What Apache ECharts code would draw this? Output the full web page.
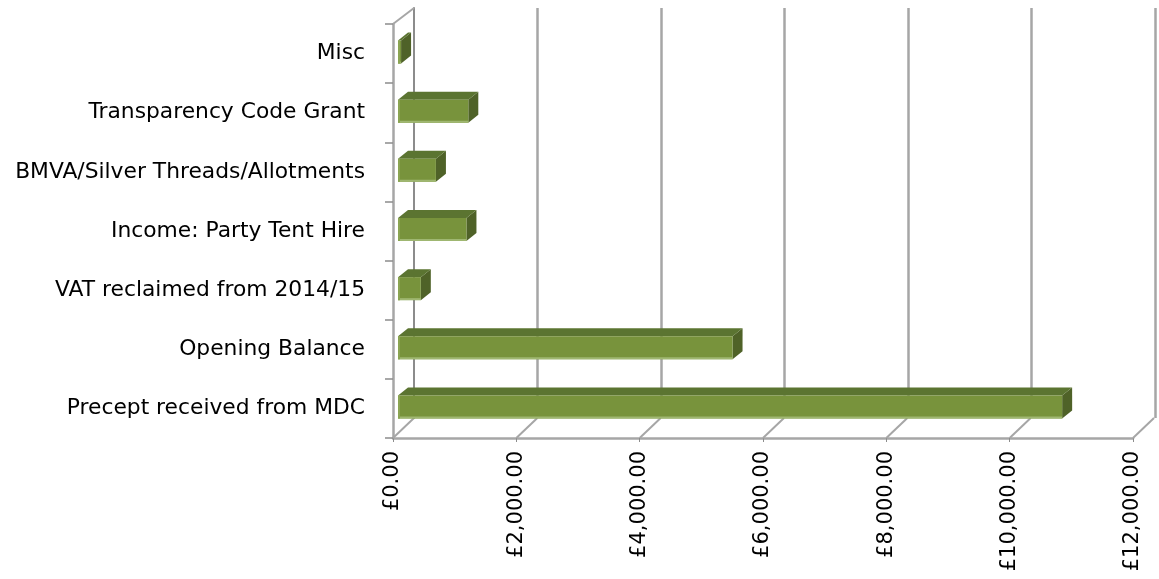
<!DOCTYPE html>
<html>
<head>
<meta charset="utf-8">
<script src="https://cdn.jsdelivr.net/npm/echarts@6/dist/echarts.min.js"></script>
<style>html,body{margin:0;padding:0;background:#fff;}#c{width:1159px;height:579px;}</style>
</head>
<body>
<div id="c"></div>
<script>
var categories = ['Misc', 'Transparency Code Grant', 'BMVA/Silver Threads/Allotments', 'Income: Party Tent Hire', 'VAT reclaimed from 2014/15', 'Opening Balance', 'Precept received from MDC'];
var values = [50, 1140, 615, 1110, 370, 5425, 10770];
var xTicks = [0, 2000, 4000, 6000, 8000, 10000, 12000];

function money(v) {
  var s = Math.round(v).toString().replace(/\B(?=(\d{3})+(?!\d))/g, ',');
  return '£' + s + '.00';
}

var FONT = 'DejaVu Sans';
var GRID_GRAY = '#a6a6a6';

var chart = echarts.init(document.getElementById('c'), null, {renderer: 'canvas'});

var barData = values.map(function (v, i) { return [v, i]; });

chart.setOption({
  animation: false,
  backgroundColor: '#fff',
  grid: [
    {left: 393, right: 26, top: 24, bottom: 141},
    {left: 414, right: 4, top: 8, bottom: 161}
  ],
  xAxis: [
    {
      gridIndex: 0, type: 'value', min: 0, max: 12000, interval: 2000,
      axisLine: {show: true, lineStyle: {color: GRID_GRAY, width: 2.5}},
      axisTick: {show: true, length: 4, lineStyle: {color: '#8c8c8c', width: 1}},
      splitLine: {show: false},
      axisLabel: {rotate: 90, margin: 13, color: '#000', fontFamily: FONT, fontSize: 21, formatter: money}
    },
    {
      gridIndex: 1, type: 'value', min: 0, max: 12000, interval: 2000,
      axisLine: {show: false}, axisTick: {show: false}, axisLabel: {show: false},
      splitLine: {show: true, showMinLine: false, showMaxLine: true, lineStyle: {color: GRID_GRAY, width: 2.5}}
    }
  ],
  yAxis: [
    {
      gridIndex: 0, type: 'category', data: categories, inverse: true,
      axisLine: {show: true, lineStyle: {color: GRID_GRAY, width: 2.5}},
      axisTick: {show: true, length: 8, lineStyle: {color: '#8c8c8c', width: 1.5}},
      axisLabel: {margin: 28, color: '#000', fontFamily: FONT, fontSize: 21.8}
    },
    {
      gridIndex: 1, type: 'category', data: categories, inverse: true,
      axisLine: {show: true, lineStyle: {color: '#8c8c8c', width: 2}},
      axisTick: {show: false}, axisLabel: {show: false}, splitLine: {show: false}
    }
  ],
  series: [
    {
      type: 'custom',
      xAxisIndex: 0, yAxisIndex: 0,
      data: xTicks,
      z: 1,
      silent: true,
      renderItem: function (params, api) {
        var cs = params.coordSys;
        var p = api.coord([api.value(0), 0]);
        var bottom = cs.y + cs.height;
        var children = [{
          type: 'line',
          shape: {x1: p[0], y1: bottom, x2: p[0] + 21, y2: bottom - 20},
          style: {stroke: GRID_GRAY, lineWidth: 2}
        }];
        if (params.dataIndex === 0) {
          children.push({
            type: 'line',
            shape: {x1: cs.x, y1: cs.y, x2: cs.x + 21, y2: cs.y - 16},
            style: {stroke: GRID_GRAY, lineWidth: 2}
          });
        }
        return {type: 'group', children: children};
      }
    },
    {
      type: 'custom',
      xAxisIndex: 0, yAxisIndex: 0,
      data: barData,
      z: 3,
      renderItem: function (params, api) {
        var c0 = api.coord([0, api.value(1)]);
        var cv = api.coord([api.value(0), api.value(1)]);
        var x0 = c0[0] + 5, x1 = cv[0] + 5, yc = c0[1];
        var yt = yc - 13, yb = yc + 10, dx = 10, dy = 8;
        return {
          type: 'group',
          children: [
            {type: 'polygon', shape: {points: [[x1, yt], [x1 + dx, yt - dy], [x1 + dx, yb - dy], [x1, yb]]}, style: {fill: '#4f6228'}},
            {type: 'polygon', shape: {points: [[x0, yt], [x1, yt], [x1 + dx, yt - dy], [x0 + dx, yt - dy]]}, style: {fill: '#5b7431'}},
            {type: 'rect', shape: {x: x0, y: yt, width: x1 - x0, height: yb - yt}, style: {fill: '#78933c'}},
            {type: 'rect', shape: {x: x0, y: yb - 2, width: x1 - x0, height: 2}, style: {fill: '#9fb771'}},
            {type: 'rect', shape: {x: x0, y: yt, width: 2, height: yb - yt}, style: {fill: '#8aa452'}}
          ]
        };
      }
    }
  ]
});
</script>
</body>
</html>
